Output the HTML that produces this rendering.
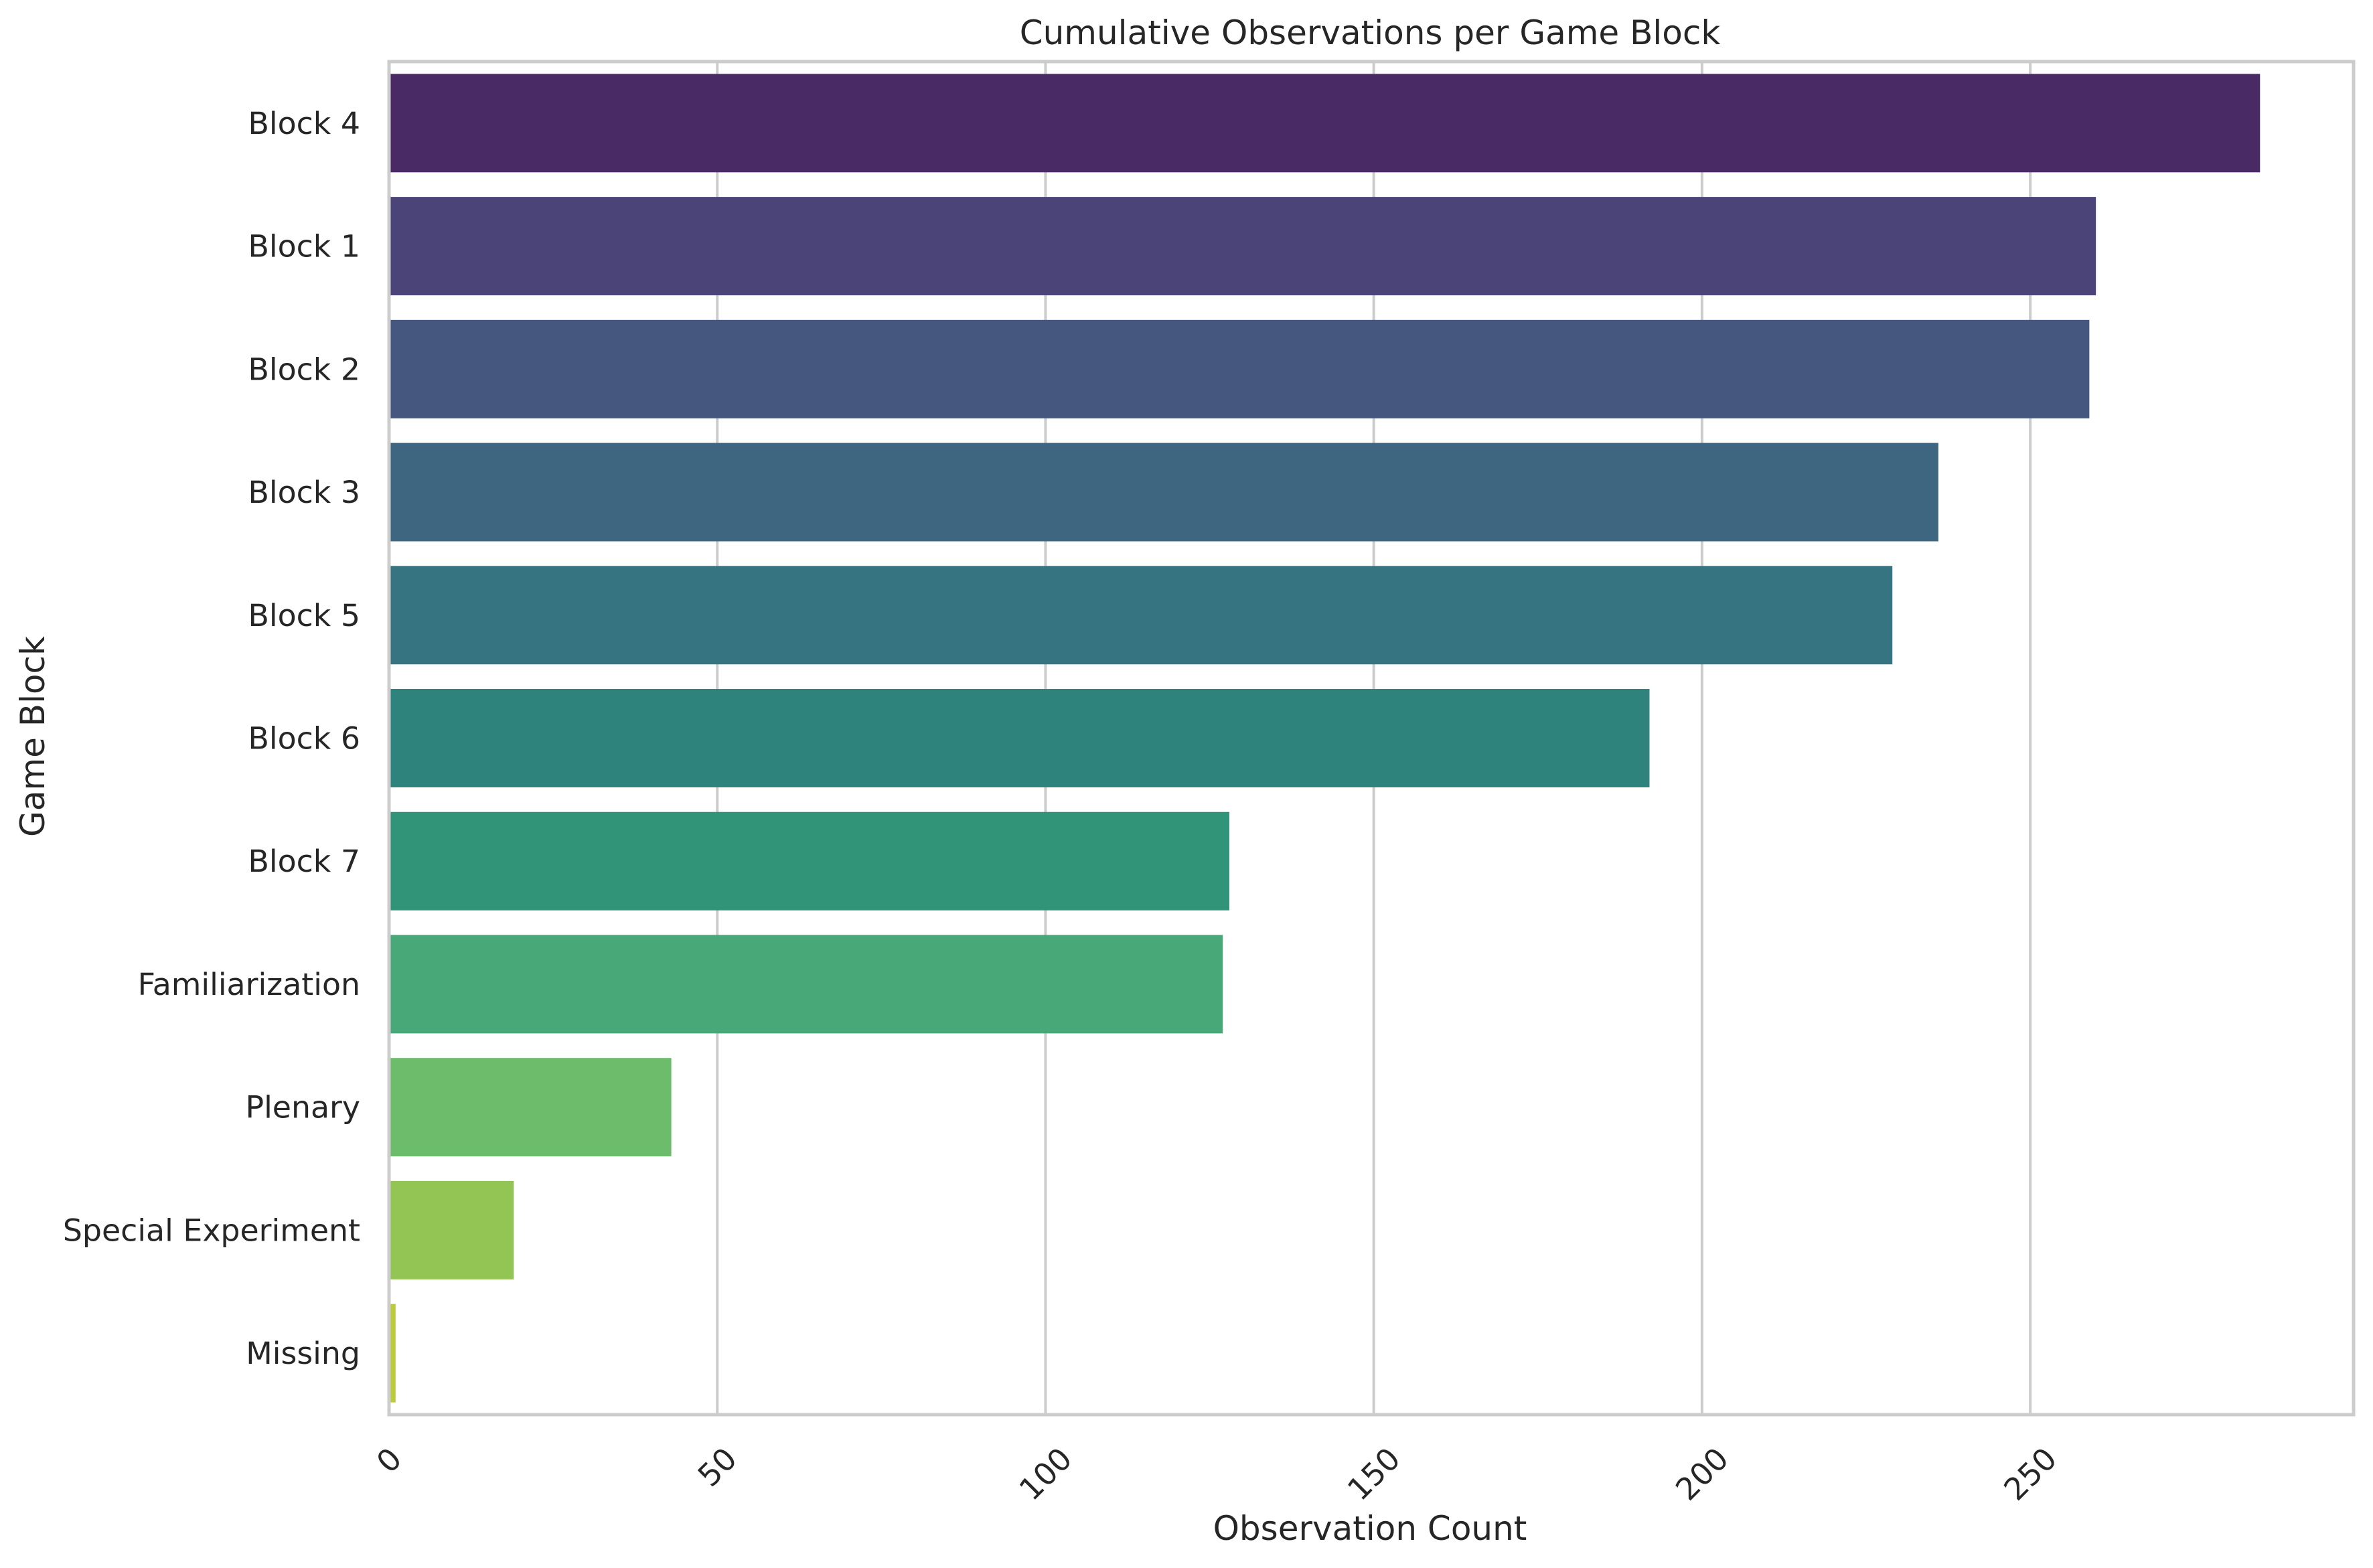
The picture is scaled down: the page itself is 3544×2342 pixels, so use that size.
<!DOCTYPE html>
<html><head><meta charset="utf-8"><style>
html,body{margin:0;padding:0;background:#fff}
svg{display:block;font-family:"DejaVu Sans","Liberation Sans",sans-serif}
</style></head><body>
<svg id="chart" width="3544" height="2342" viewBox="0 0 3544 2342" xmlns="http://www.w3.org/2000/svg">
<text x="2046" y="66" font-size="50" text-anchor="middle" fill="#262626">Cumulative Observations per Game Block</text>
<text x="2046" y="2300" font-size="50" text-anchor="middle" fill="#262626">Observation Count</text>
<text x="0" y="0" font-size="50" text-anchor="middle" fill="#262626" transform="translate(66,1100) rotate(-90)">Game Block</text>
<g id="grid"></g>
<g id="bars"></g>
<g id="labels"></g>
<rect x="581" y="92" width="2934" height="2021" fill="none" stroke="#cccccc" stroke-width="5"/>
</svg>
<script>
const categories = ["Block 4","Block 1","Block 2","Block 3","Block 5","Block 6","Block 7","Familiarization","Plenary","Special Experiment","Missing"];
const values = [285,260,259,236,229,192,128,127,43,19,1];
const colors = ["#4a2a64","#4b4478","#45577f","#3f6680","#357480","#2e837c","#319479","#48a877","#6cbc6c","#93c555","#bccb3c"];
const xTicks = [0,50,100,150,200,250];
const xMax = 299.25;

const NS = "http://www.w3.org/2000/svg";
const L = 581, T = 92, W = 2934, H = 2021;
const xs = v => L + v / xMax * W;
const band = H / categories.length;
const grid = document.getElementById('grid');
const bars = document.getElementById('bars');
const labels = document.getElementById('labels');

xTicks.forEach(t => {
  const ln = document.createElementNS(NS, 'line');
  
  
  ln.setAttribute('x1', xs(t)); ln.setAttribute('x2', xs(t));
  ln.setAttribute('y1', T); ln.setAttribute('y2', T + H);
  ln.setAttribute('stroke', '#cccccc'); ln.setAttribute('stroke-width', '4');
  grid.appendChild(ln);
  const tx = document.createElementNS(NS, 'text');
  
  
  const w = String(t).length * 29;
  const hh = (w * 0.707 + 36 * 0.707) / 2;
  const cx = xs(t), cy = 2158 + hh;
  tx.setAttribute('x', cx); tx.setAttribute('y', cy + 16);
  tx.setAttribute('font-size', '45.8'); tx.setAttribute('text-anchor', 'middle');
  tx.setAttribute('fill', '#262626');
  tx.setAttribute('transform', `rotate(-45 ${cx} ${cy})`);
  tx.textContent = t;
  labels.appendChild(tx);
});

categories.forEach((c, i) => {
  const y0 = T + band * i;
  const r = document.createElementNS(NS, 'rect');
  
  
  r.setAttribute('x', xs(0)); r.setAttribute('y', y0 + band * 0.1);
  r.setAttribute('width', xs(values[i]) - xs(0)); r.setAttribute('height', band * 0.8);
  r.setAttribute('fill', colors[i]);
  bars.appendChild(r);
  const tx = document.createElementNS(NS, 'text');
  
  
  tx.setAttribute('x', 538); tx.setAttribute('y', y0 + band / 2 + 16);
  tx.setAttribute('font-size', '45.8'); tx.setAttribute('text-anchor', 'end');
  tx.setAttribute('fill', '#262626');
  tx.textContent = c;
  labels.appendChild(tx);
});
</script>
</body></html>
